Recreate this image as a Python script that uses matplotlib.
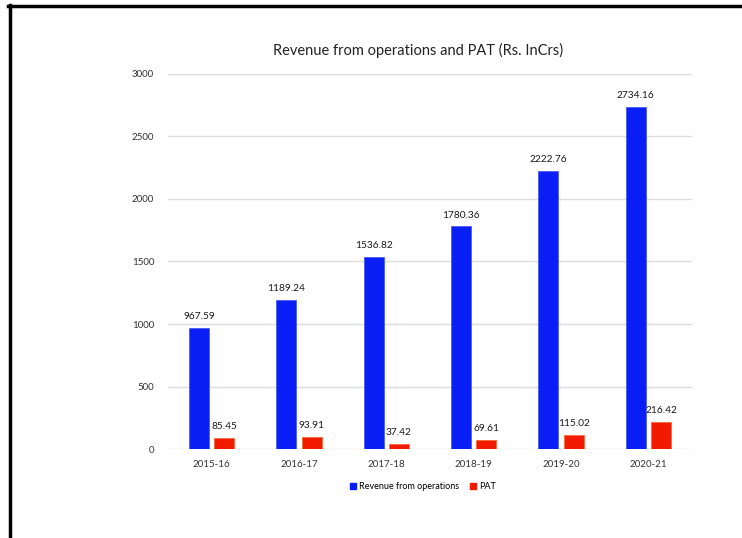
import matplotlib.pyplot as plt
from matplotlib.lines import Line2D
import numpy as np

years = ['2015-16', '2016-17', '2017-18', '2018-19', '2019-20', '2020-21']
revenue = [967.59, 1189.24, 1536.82, 1780.36, 2222.76, 2734.16]
pat = [85.45, 93.91, 37.42, 69.61, 115.02, 216.42]

plt.rcParams['font.family'] = ['Lato', 'DejaVu Sans']

fig = plt.figure(figsize=(7.42, 5.38), dpi=100)
ax = fig.add_axes([0.2264, 0.1654, 0.7062, 0.6971])

x = np.arange(len(years))
w = 0.23
off = 0.145
b1 = ax.bar(x - off, revenue, w, color='#0a1ff5', edgecolor='#4a5cf7', linewidth=0.6,
            label='Revenue from operations', zorder=3)
b2 = ax.bar(x + off, pat, w, color='#f21a00', edgecolor='#f56a3a', linewidth=0.6,
            label='PAT', zorder=3)

# value labels above each bar
for bars, vals in ((b1, revenue), (b2, pat)):
    for r, v in zip(bars, vals):
        ax.annotate(f'{v:.2f}', (r.get_x() + r.get_width() / 2, v),
                    xytext=(0, 5), textcoords='offset points',
                    ha='center', va='bottom', fontsize=7.3, color='#1a1a1a')

ax.set_xlim(-0.5, len(years) - 0.5)
ax.set_ylim(0, 3000)
ax.set_yticks(range(0, 3001, 500))
ax.set_xticks(x)
ax.set_xticklabels(years)
ax.tick_params(length=0, labelsize=7, colors='#333333')
ax.tick_params(axis='y', pad=10)
ax.tick_params(axis='x', pad=8)
ax.grid(axis='y', color='#dcdcdc', linewidth=1, zorder=0)
for s in ax.spines.values():
    s.set_visible(False)

fig.text(0.563, 0.907, 'Revenue from operations and PAT (Rs. InCrs)',
         ha='center', va='center', fontsize=10.5, color='#222222')

handles = [plt.Rectangle((0, 0), 1, 1, color='#0a1ff5'),
           plt.Rectangle((0, 0), 1, 1, color='#f21a00')]
fig.legend(handles, ['Revenue from operations', 'PAT'], loc='center',
           bbox_to_anchor=(0.57, 0.095), ncol=2, frameon=False, fontsize=6.5,
           handlelength=0.7, handleheight=0.7, handletextpad=0.3, columnspacing=1.2)

# black frame on top and left
fig.add_artist(Line2D([0.011, 1.0], [0.989, 0.989], color='black', linewidth=2.5,
                      transform=fig.transFigure))
fig.add_artist(Line2D([0.0135, 0.0135], [0.0, 0.99], color='black', linewidth=2.5,
                      transform=fig.transFigure))

fig.savefig('out.png', dpi=100)
